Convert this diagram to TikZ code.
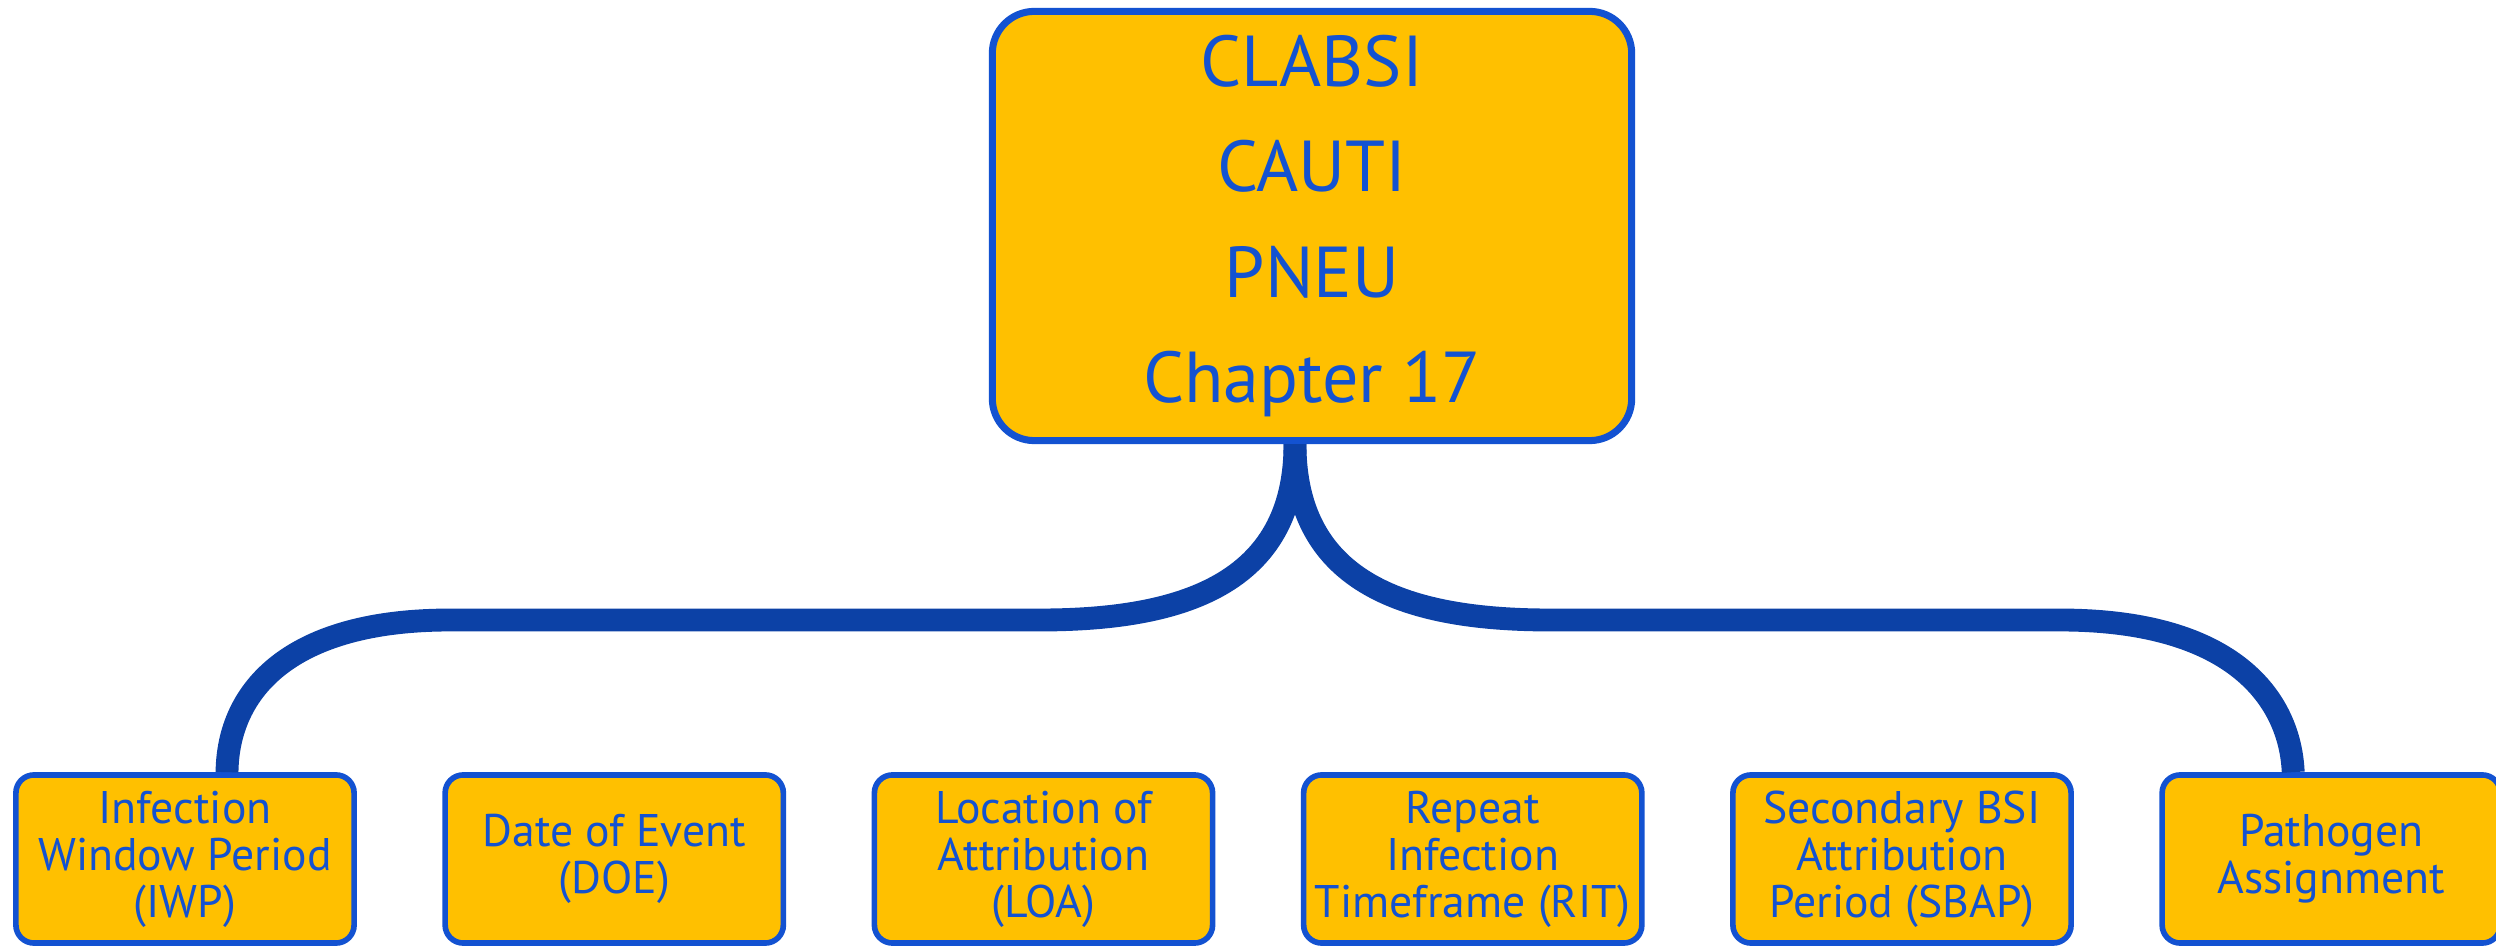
\documentclass[tikz,border=0pt]{standalone}
\usepackage{fontspec}
\setmainfont{PT Sans}
\usepackage{xcolor}
\definecolor{boxgold}{HTML}{FFC000}
\definecolor{boxblue}{HTML}{1352D1}
\definecolor{bracenavy}{HTML}{0C41A6}

\begin{document}
\begin{tikzpicture}[x=0.01cm,y=-0.01cm,node distance=4.29cm,
    top node/.style={draw=boxblue,line width=2pt,fill=boxgold,rounded corners=0.42cm,minimum width=6.39cm,minimum height=4.29cm,align=center,text=boxblue,font=\fontsize{20.5}{30}\selectfont},
    leaf node/.style={draw=boxblue,line width=1.6pt,fill=boxgold,rounded corners=0.18cm,minimum width=3.38cm,minimum height=1.68cm,inner sep=0pt,align=center,text=boxblue,font=\fontsize{13}{13.4}\selectfont},
    brace/.style={draw=bracenavy,line width=6.5pt}]
    \useasboundingbox (0,0) rectangle (2496,946);

    \node[top node] (top) at (1312,226) {CLABSI\\CAUTI\\PNEU\\Chapter 17};

    \node[leaf node] (iwp) at (185,859) {Infection\\Window Period\\(IWP)};
    \node[leaf node] (doe) [right of=iwp] {Date of Event\\(DOE)};
    \node[leaf node] (loa) [right of=doe] {Location of\\Attribution\\(LOA)};
    \node[leaf node] (rit) [right of=loa] {Repeat\\Infection\\Timeframe (RIT)};
    \node[leaf node] (sbap) [right of=rit] {Secondary BSI\\Attribution\\Period (SBAP)};
    \node[leaf node] (path) [right of=sbap] {Pathogen\\Assignment};

    \draw[brace] ([xshift=-0.17cm]top.south) .. controls (1295,585) and (1180,620) .. (1040,620)
        -- (450,620) .. controls (290,620) and (228,690) .. ([xshift=0.42cm]iwp.north);
    \draw[brace] ([xshift=-0.17cm]top.south) .. controls (1295,585) and (1410,620) .. (1550,620)
        -- (2060,620) .. controls (2235,620) and (2290,700) .. ([xshift=-0.38cm]path.north);
\end{tikzpicture}
\end{document}
